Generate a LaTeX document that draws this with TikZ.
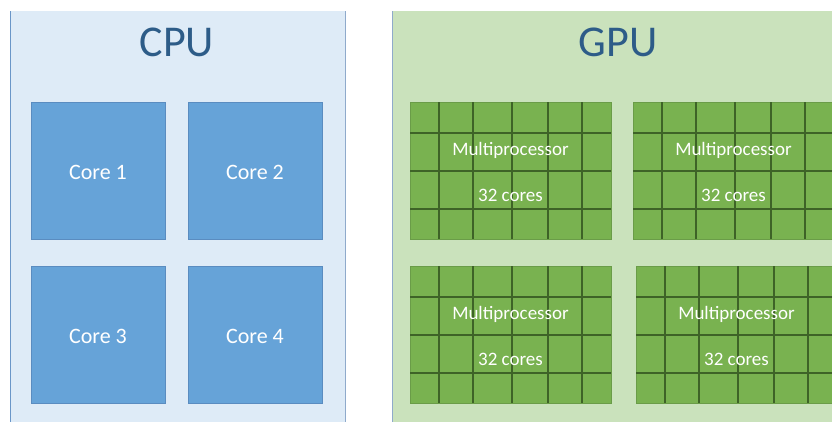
\documentclass[tikz,border=0pt]{standalone}
\usepackage{fontspec}
\setmainfont{Carlito}
\usetikzlibrary{calc}

\definecolor{cpubg}{HTML}{DEEBF7}
\definecolor{gpubg}{HTML}{CAE2BC}
\definecolor{cpuedge}{HTML}{6A96C8}
\definecolor{gpuedge}{HTML}{8FAACB}
\definecolor{corefill}{HTML}{66A3D8}
\definecolor{coreedge}{HTML}{5A8CC0}
\definecolor{mpfill}{HTML}{79B250}
\definecolor{mpedge}{HTML}{6A9C48}
\definecolor{gridline}{HTML}{3E6327}
\definecolor{titleblue}{HTML}{2D5C88}

\tikzset{
  panel/.style={anchor=north west, inner sep=0pt, outer sep=0pt,
    minimum width=#1, minimum height=420pt},
  title/.style={text=titleblue, font=\fontsize{44}{44}\selectfont, inner sep=0pt},
  corebox/.style={fill=corefill, draw=coreedge, line width=0.8pt,
    inner sep=0pt, outer sep=0pt, anchor=north west,
    minimum width=134pt, minimum height=137pt},
  corelabel/.style={text=white, font=\fontsize{22}{22}\selectfont, inner sep=0pt},
  mpbox/.style={fill=mpfill, draw=mpedge, line width=0.8pt,
    inner sep=0pt, outer sep=0pt, anchor=north west,
    minimum width=201pt, minimum height=137pt},
  mplabel/.style={text=white, font=\fontsize{19}{46}\selectfont,
    align=center, inner sep=0pt},
  gridrule/.style={draw=gridline, line width=2pt},
}

\begin{document}
\begin{tikzpicture}[x=1pt, y=-1pt]
\useasboundingbox (0,0) rectangle (832,421);
\clip (0,0) rectangle (832,421);

% processor panels
\node[panel=335pt, fill=cpubg] (cpu) at (10,11) {};
\node[panel=450pt, fill=gpubg] (gpu) at (392.5,11) {};
\draw[cpuedge, line width=1pt] (cpu.north west) -- (cpu.south west);
\draw[gpuedge, line width=1pt] (cpu.north east) -- (cpu.south east);
\draw[gpuedge, line width=1.2pt] (gpu.north west) -- (gpu.south west);

% titles
\node[title] (cputitle) at (177,42) {CPU};
\node[title] (gputitle) at (618,42) {GPU};

% CPU cores
\foreach \name/\px/\py/\lbl in {core1/31/102/Core 1, core2/188/102/Core 2,
                                core3/31/266/Core 3, core4/188/266/Core 4}{
  \node[corebox] (\name) at (\px,\py) {};
  \node[corelabel] (\name text) at ($(\name.center)+(0,1.5)$) {\lbl};
}

% GPU multiprocessors, each a 6 x 4 block of cores
\foreach \name/\px/\py in {mp1/410/102, mp2/633/102, mp3/410/266, mp4/636/266}{
  \node[mpbox] (\name) at (\px,\py) {};
  \foreach \dx in {29,63,102,138,172}
    \draw[gridrule] ($(\name.north west)+(\dx,0)$) -- ($(\name.south west)+(\dx,0)$);
  \foreach \dy in {31,69,107}
    \draw[gridrule] ($(\name.north west)+(0,\dy)$) -- ($(\name.north east)+(0,\dy)$);
  \node[mplabel] (\name text) at ($(\name.center)+(0,1)$) {Multiprocessor\\32 cores};
}
\end{tikzpicture}
\end{document}
